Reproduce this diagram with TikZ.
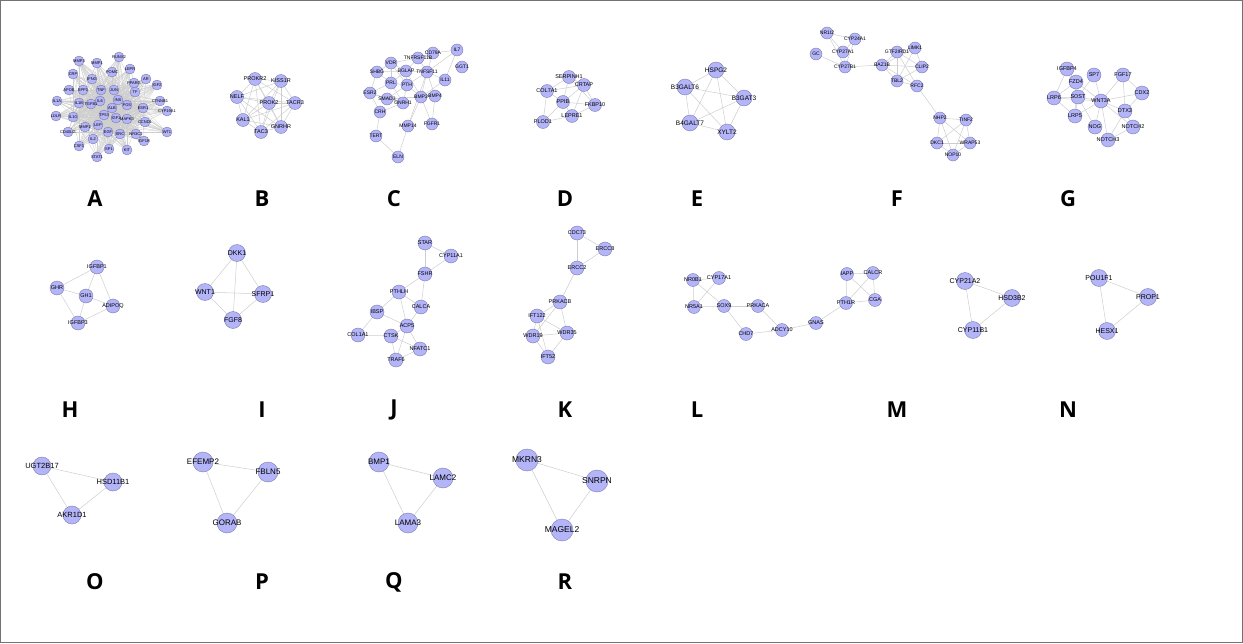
\documentclass[tikz,border=0pt]{standalone}
\usepackage{fontspec}
\setmainfont{Liberation Sans}
\newfontfamily\letterfont{Open Sans}
\definecolor{nfill}{RGB}{180,180,248}
\definecolor{nline}{RGB}{115,115,165}
\definecolor{edgec}{RGB}{206,206,206}
\pgfdeclarelayer{bg}
\pgfsetlayers{bg,main}
\tikzset{
  gn/.style={circle,inner sep=0pt,minimum size=\nsz,fill=nfill,draw=nline,line width=0.35pt,
    label={[font=\nfont,inner sep=0pt,text=black]center:#1}},
  ed/.style={draw=edgec,line width=0.5pt},
  letter/.style={font=\letterfont\bfseries\fontsize{22}{22}\selectfont,inner sep=0pt},
}
\newcommand\gn[3]{\node[gn=#1] (#1) at (#2,#3) {};}
\newcommand\eds[1]{\begin{pgfonlayer}{bg}\foreach \u/\v in {#1} {\draw[ed] (\u.center) -- (\v.center);}\end{pgfonlayer}}
\newcommand\complete[1]{\begin{pgfonlayer}{bg}\foreach \u [count=\i] in {#1} {\foreach \v [count=\j] in {#1} {\ifnum\i<\j \draw[ed] (\u.center) -- (\v.center);\fi}}\end{pgfonlayer}}
\newcommand\setsz[2]{\def\nsz{#1pt}\def\nfont{\fontsize{#2}{#2}\selectfont}}
\begin{document}
\begin{tikzpicture}[x=1pt,y=-1pt]
\useasboundingbox (0,0) rectangle (1243,643);
\draw[black!55,line width=0.8pt] (0.5,0.5) rectangle (1242.5,642.5);
% ---------------- A
\setsz{10}{4}
\gn{RUNX2}{119}{57}\gn{MMP3}{79}{61}\gn{MMP1}{97}{63}\gn{LEPR}{130}{69}\gn{POMC}{112}{72}
\gn{CRP}{73}{74}\gn{IFNG}{92}{79}\gn{AR}{146}{79}\gn{PPARG}{134}{83}\gn{IGF2}{157}{85}
\gn{APOE}{69}{90}\gn{SPP1}{83}{90}\gn{TNF}{101}{90}\gn{JUN}{114}{90}\gn{TF}{135}{92}
\gn{IL6}{100}{101}\gn{INS}{118}{100}\gn{IL1A}{57}{101}\gn{IL1B}{79}{103}\gn{TGFB1}{91}{104}
\gn{CTNNB1}{160}{101}\gn{FOS}{127}{105}\gn{CYP19A1}{167}{111}\gn{ALB}{112}{108}\gn{ESR1}{143}{108}
\gn{IL10}{73}{117}\gn{LDLR}{56}{116}\gn{TP53}{104}{115}\gn{IGF1}{116}{118}\gn{MAPK3}{127}{119}
\gn{CCND1}{145}{122}\gn{MMP2}{85}{127}\gn{LEP}{98}{125}\gn{CD40LG}{68}{132}\gn{EGF}{108}{132}
\gn{SRC}{120}{134}\gn{NR3C1}{136}{134}\gn{WT1}{167}{132}\gn{IGF1R}{144}{141}\gn{IL2}{93}{139}
\gn{CSF1}{79}{146}\gn{SP1}{109}{149}\gn{KIT}{127}{150}\gn{STAT1}{97}{157}
\begin{pgfonlayer}{bg}
\foreach \h in {INS,ALB,IL6,TNF,TP53,IGF1,EGF,JUN,FOS,ESR1,TGFB1,IL10,LEP,MAPK3,SRC,IL1B}
 \foreach \v in {RUNX2,MMP3,MMP1,LEPR,POMC,CRP,IFNG,AR,PPARG,IGF2,APOE,SPP1,TNF,JUN,TF,IL6,INS,IL1A,IL1B,TGFB1,CTNNB1,FOS,CYP19A1,ALB,ESR1,IL10,LDLR,TP53,IGF1,MAPK3,CCND1,MMP2,LEP,CD40LG,EGF,SRC,NR3C1,WT1,IGF1R,IL2,CSF1,SP1,KIT,STAT1}
  {\draw[ed,line width=0.35pt] (\h.center) -- (\v.center);}
\end{pgfonlayer}
% ---------------- B
\setsz{13}{5.5}
\gn{PROKR2}{255}{79}\gn{KISS1R}{281}{81}\gn{NELF}{237}{97}\gn{PROK2}{269}{103}
\gn{TACR3}{295}{103}\gn{KAL1}{243}{120}\gn{GNRHR}{281}{127}\gn{TAC3}{261}{132}
\complete{PROKR2,KISS1R,NELF,PROK2,TACR3,KAL1,GNRHR,TAC3}
% ---------------- C
\setsz{12}{5}
\gn{IL7}{457}{50}\gn{CD79A}{433}{53}\gn{TNFRSF11B}{418}{58}\gn{VDR}{391}{63}\gn{GGT1}{462}{67}
\gn{SHBG}{377}{72}\gn{BGLAP}{406}{71}\gn{TNFSF11}{427}{72}\gn{IL11}{445}{80}\gn{PRL}{391}{83}
\gn{PTH}{407}{85}\gn{ESR2}{370}{93}\gn{SMAD3}{387}{99}\gn{BMP2}{421}{97}\gn{BMP4}{435}{96}
\gn{GNRH1}{403}{103}\gn{CRH}{380}{112}\gn{MMP14}{408}{126}\gn{FGFR1}{432}{124}\gn{TERT}{376}{136}
\gn{ELN}{398}{157}
\eds{VDR/BGLAP,VDR/PTH,VDR/SHBG,VDR/PRL,VDR/TNFRSF11B,SHBG/ESR2,SHBG/PRL,SHBG/BGLAP,ESR2/PRL,ESR2/SMAD3,ESR2/CRH,ESR2/GNRH1,PRL/GNRH1,PRL/PTH,PRL/BGLAP,BGLAP/PTH,BGLAP/TNFSF11,BGLAP/BMP2,BGLAP/TNFRSF11B,PTH/TNFSF11,PTH/BMP2,PTH/GNRH1,PTH/SMAD3,TNFSF11/TNFRSF11B,TNFSF11/CD79A,TNFSF11/IL11,TNFSF11/IL7,TNFSF11/BMP2,TNFSF11/BMP4,TNFRSF11B/CD79A,CD79A/IL7,IL7/IL11,IL11/BMP2,BMP2/BMP4,BMP2/SMAD3,BMP4/SMAD3,SMAD3/GNRH1,GNRH1/CRH,CRH/TERT,TERT/ELN,ELN/MMP14,MMP14/BMP2,MMP14/TNFSF11,FGFR1/BMP2,FGFR1/BMP4}
% ---------------- D
\setsz{13}{5.5}
\gn{SERPINH1}{569}{77}\gn{CRTAP}{584}{85}\gn{COL7A1}{547}{91}\gn{PPIB}{563}{102}
\gn{FKBP10}{595}{105}\gn{LEPRE1}{572}{116}\gn{PLOD1}{543}{122}
\eds{SERPINH1/CRTAP,SERPINH1/COL7A1,SERPINH1/PPIB,SERPINH1/FKBP10,COL7A1/PPIB,COL7A1/PLOD1,COL7A1/CRTAP,CRTAP/PPIB,CRTAP/FKBP10,CRTAP/LEPRE1,PPIB/FKBP10,PPIB/LEPRE1,PPIB/PLOD1,LEPRE1/FKBP10,LEPRE1/PLOD1}
% ---------------- E
\setsz{16}{6.5}
\gn{HSPG2}{716}{70}\gn{B3GALT6}{685}{87}\gn{B3GAT3}{744}{98}\gn{B4GALT7}{690}{123}\gn{XYLT2}{727}{132}
\complete{HSPG2,B3GALT6,B3GAT3,B4GALT7,XYLT2}
% ---------------- F
\setsz{12}{5}
\gn{NR1I2}{827}{33}\gn{CYP24A1}{855}{39}\gn{GC}{816}{54}\gn{CYP27A1}{843}{52}\gn{CYP27B1}{845}{67}
\gn{BAZ1B}{882}{65}\gn{GTF2IRD1}{897}{52}\gn{LIMK1}{915}{48}\gn{CLIP2}{922}{67}\gn{TBL2}{897}{81}
\gn{RFC2}{917}{86}\gn{NHP2}{940}{118}\gn{TINF2}{966}{120}\gn{DKC1}{937}{143}\gn{WRAP53}{970}{143}
\gn{NOP10}{953}{155}
\eds{NR1I2/CYP24A1,NR1I2/CYP27A1,NR1I2/CYP27B1,GC/CYP27B1,CYP24A1/CYP27A1,CYP24A1/CYP27B1,CYP27A1/CYP27B1,CYP27B1/BAZ1B,BAZ1B/GTF2IRD1,BAZ1B/TBL2,BAZ1B/CLIP2,BAZ1B/LIMK1,BAZ1B/RFC2,GTF2IRD1/LIMK1,GTF2IRD1/CLIP2,GTF2IRD1/TBL2,GTF2IRD1/RFC2,LIMK1/CLIP2,LIMK1/TBL2,CLIP2/TBL2,TBL2/RFC2,RFC2/NHP2,NHP2/TINF2,NHP2/DKC1,NHP2/NOP10,NHP2/WRAP53,TINF2/DKC1,TINF2/WRAP53,DKC1/NOP10,DKC1/WRAP53,NOP10/WRAP53,TINF2/NOP10}
% ---------------- G
\setsz{14}{5.5}
\gn{IGFBP4}{1067}{69}\gn{SP7}{1094}{75}\gn{FGF17}{1123}{75}\gn{FZD4}{1076}{82}\gn{LRP6}{1054}{98}
\gn{SOST}{1078}{97}\gn{WNT3A}{1101}{101}\gn{CDX2}{1142}{93}\gn{DTX3}{1125}{111}\gn{LRP5}{1075}{116}
\gn{NOG}{1095}{127}\gn{NOTCH2}{1133}{127}\gn{NOTCH3}{1108}{140}
\eds{IGFBP4/LRP6,IGFBP4/FZD4,IGFBP4/SOST,FZD4/LRP6,FZD4/LRP5,FZD4/WNT3A,FZD4/SOST,LRP6/SOST,LRP6/LRP5,LRP6/WNT3A,SOST/WNT3A,SOST/LRP5,SP7/WNT3A,SP7/SOST,FGF17/WNT3A,FGF17/CDX2,FGF17/DTX3,CDX2/WNT3A,CDX2/DTX3,WNT3A/DTX3,WNT3A/NOG,WNT3A/NOTCH3,WNT3A/LRP5,WNT3A/NOTCH2,DTX3/NOTCH2,DTX3/NOTCH3,NOTCH2/NOTCH3,NOG/SOST}
% ---------------- H
\setsz{14}{5.5}
\gn{IGFBP1}{97}{267}\gn{GHR}{57}{288}\gn{GH1}{86}{296}\gn{ADIPOQ}{113}{306}\gn{IGFBP3}{78}{323}
\eds{IGFBP1/GHR,IGFBP1/GH1,IGFBP1/ADIPOQ,GHR/GH1,GHR/IGFBP3,GH1/ADIPOQ,GH1/IGFBP3,ADIPOQ/IGFBP3}
% ---------------- I
\setsz{17}{7}
\gn{DKK1}{237}{253}\gn{WNT1}{205}{292}\gn{SFRP1}{263}{294}\gn{FGF8}{233}{320}
\complete{DKK1,WNT1,SFRP1,FGF8}
% ---------------- J
\setsz{14}{5.5}
\gn{STAR}{425}{243}\gn{CYP11A1}{451}{256}\gn{FSHR}{425}{274}\gn{PTHLH}{399}{292}\gn{CALCA}{421}{307}
\gn{IBSP}{377}{312}\gn{ACP5}{407}{326}\gn{COL1A1}{358}{335}\gn{CTSK}{391}{336}\gn{NFATC1}{420}{349}
\gn{TRAF6}{396}{360}
\eds{STAR/CYP11A1,STAR/FSHR,CYP11A1/FSHR,FSHR/PTHLH,FSHR/CALCA,PTHLH/CALCA,PTHLH/ACP5,PTHLH/IBSP,IBSP/ACP5,IBSP/COL1A1,CALCA/ACP5,ACP5/CTSK,ACP5/NFATC1,ACP5/TRAF6,CTSK/COL1A1,CTSK/TRAF6,CTSK/NFATC1,NFATC1/TRAF6}
% ---------------- K
\setsz{14}{5.5}
\gn{CDC73}{577}{233}\gn{ERCC8}{605}{249}\gn{ERCC2}{577}{268}\gn{PRKACB}{560}{302}
\gn{IFT122}{537}{316}\gn{WDR19}{533}{336}\gn{WDR35}{567}{333}\gn{IFT52}{548}{357}
\eds{CDC73/ERCC8,CDC73/ERCC2,ERCC8/ERCC2,ERCC2/PRKACB,PRKACB/IFT122,PRKACB/WDR35,PRKACB/WDR19,IFT122/WDR35,IFT122/WDR19,IFT122/IFT52,WDR19/WDR35,WDR19/IFT52,WDR35/IFT52}
% ---------------- L
\setsz{13}{5.5}
\gn{NR0B1}{693}{280}\gn{CYP17A1}{719}{278}\gn{NR5A1}{694}{307}\gn{SOX9}{724}{306}\gn{PRKACA}{758}{306}
\gn{CHD7}{746}{334}\gn{ADCY10}{782}{330}\gn{GNAS}{816}{323}\gn{PTH1R}{846}{303}\gn{IAPP}{847}{274}
\gn{CALCR}{873}{273}\gn{CGA}{875}{300}
\eds{NR0B1/CYP17A1,NR0B1/NR5A1,NR0B1/SOX9,CYP17A1/NR5A1,NR5A1/SOX9,SOX9/PRKACA,SOX9/CHD7,PRKACA/ADCY10,CHD7/ADCY10,ADCY10/GNAS,GNAS/PTH1R,PTH1R/IAPP,PTH1R/CALCR,PTH1R/CGA,IAPP/CALCR,IAPP/CGA,CALCR/CGA}
% ---------------- M
\setsz{17}{7}
\gn{CYP21A2}{965}{281}\gn{HSD3B2}{1012}{298}\gn{CYP11B1}{973}{330}
\complete{CYP21A2,HSD3B2,CYP11B1}
% ---------------- N
\gn{POU1F1}{1099}{278}\gn{PROP1}{1148}{297}\gn{HESX1}{1107}{331}
\complete{POU1F1,PROP1,HESX1}
% ---------------- O-R
\setsz{18}{7.5}
\gn{UGT2B17}{42}{466}\gn{HSD11B1}{113}{482}\gn{AKR1D1}{72}{515}
\complete{UGT2B17,HSD11B1,AKR1D1}
\setsz{20}{8}
\gn{EFEMP2}{203}{462}\gn{FBLN5}{268}{472}\gn{GORAB}{227}{523}
\complete{EFEMP2,FBLN5,GORAB}
\gn{BMP1}{379}{462}\gn{LAMC2}{443}{478}\gn{LAMA3}{408}{523}
\complete{BMP1,LAMC2,LAMA3}
\setsz{22}{8.5}
\gn{MKRN3}{527}{460}\gn{SNRPN}{597}{481}\gn{MAGEL2}{562}{530}
\complete{MKRN3,SNRPN,MAGEL2}
% ---------------- letters
\foreach \t/\x/\y in {A/95/199,B/262/199,C/394/199,D/565/199,E/697/199,F/897/199,G/1068/199,
  H/70/410,I/262/410,J/394/410,K/565/410,L/697/410,M/897/410,N/1068/410,
  O/95/582,P/262/582,Q/394/582,R/565/582}
  \node[letter] (lab\t) at (\x,\y) {\t};
\end{tikzpicture}
\end{document}
